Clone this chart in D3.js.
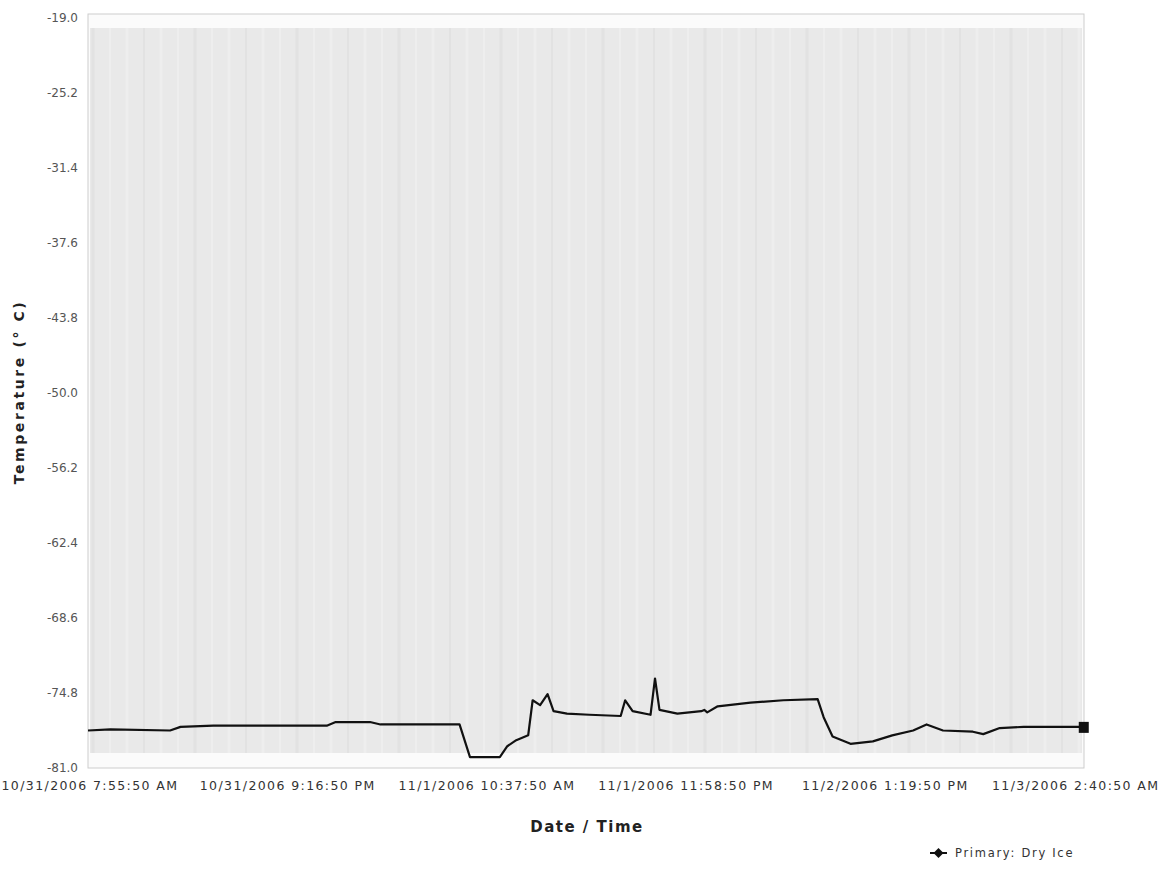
<!DOCTYPE html>
<html>
<head>
<meta charset="utf-8">
<script src="https://cdn.jsdelivr.net/npm/d3@7"></script>
<style>
  body { margin: 0; background: #fff; }
  svg { display: block; }
</style>
</head>
<body>
<div id="chart"></div>
<script>
// hours since first reading (10/31/2006 7:55:50 AM) and temperature in °C
var startTime = "10/31/2006 7:55:50 AM";
var hoursElapsed = [0, 1.5, 5.5, 6.2, 8.4, 16.0, 16.6, 18.9, 19.6, 24.9, 25.6, 27.6, 28.1, 28.7, 29.5,
    29.8, 30.3, 30.8, 31.2, 32.1, 33.6, 35.7, 36.0, 36.5, 37.7, 38.0, 38.3, 39.5, 41.1, 41.3, 41.5,
    42.2, 44.4, 46.6, 48.9, 49.3, 49.9, 51.1, 52.6, 53.9, 55.3, 56.2, 57.3, 59.3, 60.0, 61.1, 62.7, 66.6];
var temperature = [-77.9, -77.8, -77.9, -77.6, -77.5, -77.5, -77.2, -77.2, -77.4, -77.4, -80.1, -80.1, -79.2, -78.7, -78.3,
    -75.4, -75.8, -74.9, -76.3, -76.5, -76.6, -76.7, -75.4, -76.3, -76.6, -73.6, -76.2, -76.5, -76.3, -76.2, -76.4,
    -75.9, -75.6, -75.4, -75.3, -76.8, -78.4, -79.0, -78.8, -78.3, -77.9, -77.4, -77.9, -78.0, -78.2, -77.7, -77.6, -77.6];
var xTickLabels = ["10/31/2006 7:55:50 AM", "10/31/2006 9:16:50 PM", "11/1/2006 10:37:50 AM",
    "11/1/2006 11:58:50 PM", "11/2/2006 1:19:50 PM", "11/3/2006 2:40:50 AM"];
var yTickLabels = ["-19.0", "-25.2", "-31.4", "-37.6", "-43.8", "-50.0", "-56.2", "-62.4", "-68.6", "-74.8", "-81.0"];
var seriesName = "Primary: Dry Ice";

var width = 1161, height = 877;
var margin = { top: 18, right: 77, bottom: 109, left: 88 };
var plotW = width - margin.left - margin.right,
    plotH = height - margin.top - margin.bottom;
var font = "DejaVu Sans, Verdana, sans-serif";

var parseTime = d3.timeParse("%m/%d/%Y %I:%M:%S %p");
var t0 = parseTime(startTime);
var data = hoursElapsed.map(function (h, i) {
    return { time: new Date(t0.getTime() + h * 3600 * 1000), temp: temperature[i] };
});
var tickDates = xTickLabels.map(function (s) { return parseTime(s); });

var svg = d3.select("#chart")
    .append("svg")
    .attr("width", width)
    .attr("height", height);

var g = svg.append("g")
    .attr("transform", "translate(" + margin.left + "," + margin.top + ")");

var x = d3.scaleTime()
    .domain([tickDates[0], tickDates[tickDates.length - 1]])
    .range([0, plotW]);

var y = d3.scaleLinear()
    .domain([+yTickLabels[yTickLabels.length - 1], +yTickLabels[0]])
    .range([plotH, 0]);

// plot frame and grey paper area
g.append("rect")
    .attr("x", 0).attr("y", -4)
    .attr("width", plotW).attr("height", plotH + 4)
    .attr("fill", "#fbfbfb")
    .attr("stroke", "#cdcdcd");
g.append("rect")
    .attr("x", 2).attr("y", 10)
    .attr("width", plotW - 4).attr("height", plotH - 25)
    .attr("fill", "#e9e9e9");

// faint vertical streaks like the scanned page
var streaks = d3.range(0, plotW - 8, 17);
g.selectAll(".streak")
    .data(streaks)
    .enter().append("line")
    .attr("class", "streak")
    .attr("x1", function (d) { return d + 5; })
    .attr("x2", function (d) { return d + 5; })
    .attr("y1", 10).attr("y2", plotH - 15)
    .attr("stroke", function (d, i) { return i % 3 === 0 ? "#e2e2e2" : "#eeeeee"; })
    .attr("stroke-width", function (d, i) { return i % 2 === 0 ? 3 : 2; });

// y axis
var yAxis = g.append("g")
    .call(d3.axisLeft(y)
        .tickValues(yTickLabels.map(Number))
        .tickFormat(function (d, i) { return yTickLabels[i]; })
        .tickSize(0)
        .tickPadding(10));
yAxis.select(".domain").remove();
yAxis.selectAll("text")
    .attr("font-family", font)
    .attr("font-size", "12px")
    .attr("fill", "#555");

// x axis
var xAxis = g.append("g")
    .attr("transform", "translate(0," + plotH + ")")
    .call(d3.axisBottom(x)
        .tickValues(tickDates)
        .tickFormat(function (d, i) { return xTickLabels[i]; })
        .tickSize(0)
        .tickPadding(13));
xAxis.select(".domain").remove();
xAxis.selectAll("text")
    .attr("font-family", font)
    .attr("font-size", "12.5px")
    .attr("letter-spacing", "1.4px")
    .attr("fill", "#333");
// keep the two end labels inside the window
xAxis.selectAll(".tick").filter(function (d, i) { return i === 0; })
    .select("text").attr("text-anchor", "start").attr("x", -margin.left + 1);
xAxis.selectAll(".tick").filter(function (d, i) { return i === tickDates.length - 1; })
    .select("text").attr("text-anchor", "end").attr("x", margin.right - 2);

// the series line
g.append("path")
    .datum(data)
    .attr("fill", "none")
    .attr("stroke", "#111")
    .attr("stroke-width", 2.2)
    .attr("stroke-linejoin", "round")
    .attr("d", d3.line()
        .x(function (d) { return x(d.time); })
        .y(function (d) { return y(d.temp); }));

var last = data[data.length - 1];
g.append("rect")
    .attr("x", x(last.time) - 3)
    .attr("y", y(last.temp) - 5)
    .attr("width", 10).attr("height", 11)
    .attr("fill", "#111");

// axis titles
svg.append("text")
    .attr("x", 587).attr("y", 832)
    .attr("text-anchor", "middle")
    .attr("font-family", font)
    .attr("font-weight", "bold")
    .attr("font-size", "15px")
    .attr("letter-spacing", "1.5px")
    .attr("fill", "#222")
    .text("Date / Time");

svg.append("text")
    .attr("transform", "translate(24,392) rotate(-90)")
    .attr("text-anchor", "middle")
    .attr("font-family", font)
    .attr("font-weight", "bold")
    .attr("font-size", "14px")
    .attr("letter-spacing", "2.6px")
    .attr("fill", "#222")
    .text("Temperature (° C)");

// legend
var legend = svg.append("g").attr("transform", "translate(930,853)");
legend.append("line")
    .attr("x1", 0).attr("x2", 17).attr("y1", 0).attr("y2", 0)
    .attr("stroke", "#111").attr("stroke-width", 2);
legend.append("path")
    .attr("d", d3.symbol().type(d3.symbolSquare).size(50)())
    .attr("transform", "translate(8.5,0) rotate(45)")
    .attr("fill", "#111");
legend.append("text")
    .attr("x", 25).attr("y", 4)
    .attr("font-family", font)
    .attr("font-size", "11.5px")
    .attr("letter-spacing", "1.7px")
    .attr("fill", "#333")
    .text(seriesName);
</script>
</body>
</html>
